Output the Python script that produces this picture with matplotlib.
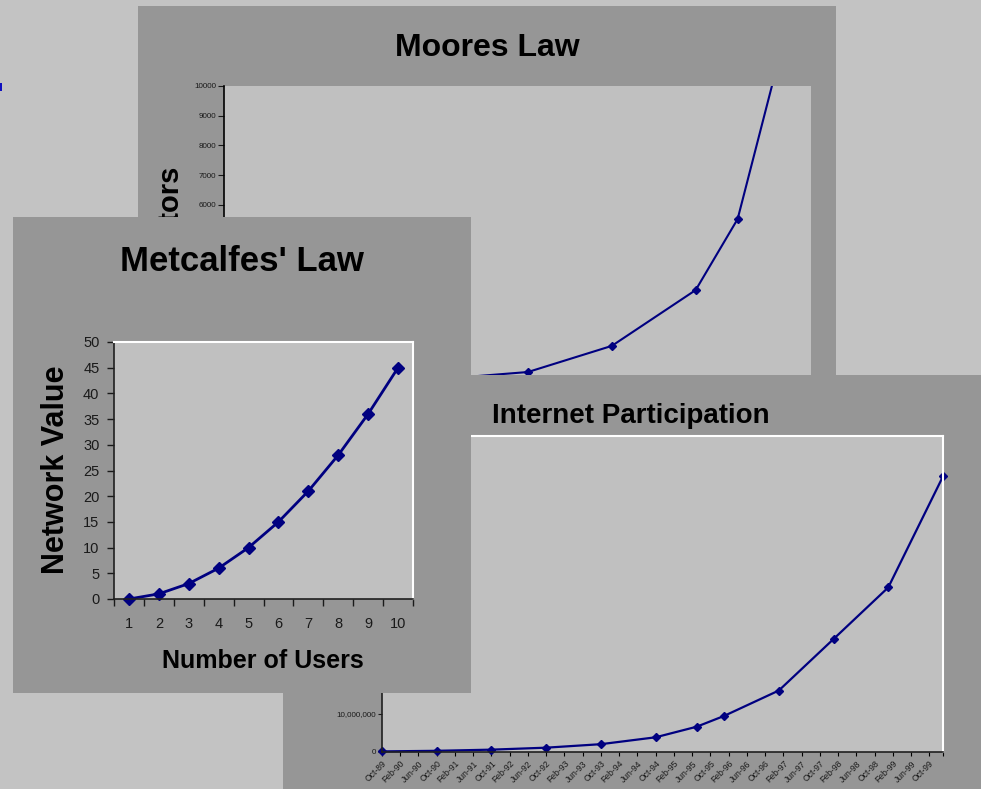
import matplotlib
matplotlib.use('Agg')
import matplotlib.pyplot as plt
from matplotlib.patches import Rectangle
from matplotlib.ticker import FuncFormatter

plt.rcParams['font.family'] = ['Liberation Sans', 'DejaVu Sans']

# Moore's law (thousands of transistors)
moore_years = [1971, 1972, 1974, 1978, 1982, 1985, 1989, 1993, 1995, 1997]
moore_transistors = [2.3, 3.5, 6, 29, 200, 370, 1250, 3130, 5520, 11000]
moore_ticks = [6000, 7000, 8000, 9000, 10000]   # the rest sit behind the other panels

# Metcalfe's law
metcalfe_users = [1, 2, 3, 4, 5, 6, 7, 8, 9, 10]
metcalfe_value = [0, 1, 3, 6, 10, 15, 21, 28, 36, 45]

# Internet hosts
internet_dates = ['Oct-89', 'Oct-90', 'Oct-91', 'Oct-92', 'Oct-93', 'Oct-94',
                  'Jul-95', 'Jan-96', 'Jan-97', 'Jan-98', 'Jan-99', 'Jan-00']
internet_hosts = [159000, 313000, 617000, 1136000, 2056000, 3864000,
                  6642000, 9472000, 16146000, 29670000, 43230000, 72398000]
internet_tick_labels = ['Oct-89', 'Feb-90', 'Jun-90', 'Oct-90', 'Feb-91', 'Jun-91',
                        'Oct-91', 'Feb-92', 'Jun-92', 'Oct-92', 'Feb-93', 'Jun-93',
                        'Oct-93', 'Feb-94', 'Jun-94', 'Oct-94', 'Feb-95', 'Jun-95',
                        'Oct-95', 'Feb-96', 'Jun-96', 'Oct-96', 'Feb-97', 'Jun-97',
                        'Oct-97', 'Feb-98', 'Jun-98', 'Oct-98', 'Feb-99', 'Jun-99',
                        'Oct-99']

MONTHS = ['Jan', 'Feb', 'Mar', 'Apr', 'May', 'Jun', 'Jul', 'Aug', 'Sep', 'Oct', 'Nov', 'Dec']


def month_index(label):
    # months since Oct-89
    mon, yy = label.split('-')
    year = 1900 + int(yy) if int(yy) > 50 else 2000 + int(yy)
    return (year - 1989) * 12 + MONTHS.index(mon) - 9


W, H = 981, 789
PANEL = '#969696'
PLOT = '#c0c0c0'
NAVY = '#000080'
DARK = '#1a1a1a'


def rect(x0, y0, x1, y1):
    return [x0 / W, 1 - y1 / H, (x1 - x0) / W, (y1 - y0) / H]


def panel(x0, y0, x1, y1, z):
    ax = fig.add_axes(rect(x0, y0, x1, y1), zorder=z)
    ax.set_facecolor(PANEL)
    ax.set_xticks([])
    ax.set_yticks([])
    for s in ax.spines.values():
        s.set_visible(False)
    ax.set_xlim(x0, x1)
    ax.set_ylim(y1, y0)
    return ax


fig = plt.figure(figsize=(W / 100, H / 100), dpi=100)
fig.patch.set_facecolor('#c3c3c3')
fig.patches.append(Rectangle((0, 1 - 91 / H), 2 / W, 8 / H, transform=fig.transFigure,
                             facecolor='#1010c0', edgecolor='none'))

# ---- Moores Law ----
p1 = panel(138, 6, 836, 470, 1)
p1.text(487, 56, 'Moores Law', ha='center', va='baseline', fontsize=23, fontweight='bold')
p1.text(171, 166, 'Transistors', rotation=90, ha='center', va='top', fontsize=21,
        fontweight='bold', clip_on=True)

ax1 = fig.add_axes(rect(224, 86, 811, 383), zorder=2)
ax1.set_facecolor(PLOT)
ax1.plot(moore_years, moore_transistors, color=NAVY, lw=1.5, marker='D', ms=4)
ax1.set_xlim(1970.5, 1998.5)
ax1.set_ylim(0, 10000)
ax1.set_yticks(moore_ticks)
ax1.set_xticks([])
ax1.tick_params(axis='y', length=4, width=0.8, pad=1.5, labelsize=5.8, colors=DARK)
for s in ['top', 'right', 'bottom']:
    ax1.spines[s].set_visible(False)
ax1.spines['left'].set_color('black')
ax1.spines['left'].set_linewidth(1.2)

# ---- Internet Participation ----
p3 = panel(283, 375, 981, 789, 3)
p3.text(631, 423, 'Internet Participation', ha='center', va='baseline', fontsize=20,
        fontweight='bold')

ax3 = fig.add_axes(rect(382, 436, 943, 752), zorder=4)
ax3.set_facecolor(PLOT)
x3 = [month_index(d) for d in internet_dates]
ax3.plot(x3, internet_hosts, color=NAVY, lw=1.6, marker='D', ms=4.3, clip_on=False)
ax3.set_xlim(0, 123)
ax3.set_ylim(0, 8.3e7)
ax3.set_yticks([0, 10000000])   # higher ticks are covered by the Metcalfe panel
ax3.yaxis.set_major_formatter(FuncFormatter(lambda v, p: f'{v:,.0f}'))
ax3.set_xticks([month_index(t) for t in internet_tick_labels] + [123])
ax3.set_xticklabels(internet_tick_labels + [''], rotation=45, ha='right', va='top',
                    rotation_mode='anchor', fontsize=6.2, color=DARK)
ax3.tick_params(axis='x', length=3, width=0.8, pad=2)
ax3.tick_params(axis='y', length=3, width=0.8, pad=1.5, labelsize=5.8, colors=DARK)
for s in ['top', 'right']:
    ax3.spines[s].set_color('white')
    ax3.spines[s].set_linewidth(1.5)
for s in ['left', 'bottom']:
    ax3.spines[s].set_color('#202020')
    ax3.spines[s].set_linewidth(1.2)

# ---- Metcalfes' Law ----
p2 = panel(13, 217, 471, 693, 5)
p2.text(242, 271, "Metcalfes' Law", ha='center', va='baseline', fontsize=25, fontweight='bold')
p2.text(56, 470, 'Network Value', rotation=90, ha='center', va='center',
        fontsize=22, fontweight='bold')
p2.text(263, 668, 'Number of Users', ha='center', va='baseline', fontsize=18, fontweight='bold')

ax2 = fig.add_axes(rect(114, 342, 413, 599), zorder=6)
ax2.set_facecolor(PLOT)
ax2.plot(metcalfe_users, metcalfe_value, color=NAVY, lw=2, marker='D', ms=6.5, clip_on=False)
ax2.set_xlim(0.5, 10.5)
ax2.set_ylim(0, 50)
ax2.set_yticks(range(0, 51, 5))
ax2.set_xticks([u - 0.5 for u in metcalfe_users] + [10.5])
ax2.set_xticklabels([])
ax2.set_xticks(metcalfe_users, minor=True)
ax2.set_xticklabels([str(u) for u in metcalfe_users], minor=True)
ax2.tick_params(axis='x', which='major', length=5, width=1, colors=DARK)
ax2.tick_params(axis='x', which='minor', length=0, pad=13, labelsize=10.5, labelcolor=DARK)
ax2.tick_params(axis='y', length=5, width=1, pad=5.5, labelsize=10.5, colors=DARK)
for s in ['top', 'right']:
    ax2.spines[s].set_color('white')
    ax2.spines[s].set_linewidth(1.5)
for s in ['left', 'bottom']:
    ax2.spines[s].set_color('#202020')
    ax2.spines[s].set_linewidth(1.2)

fig.savefig('out.png', dpi=100, facecolor=fig.get_facecolor())
